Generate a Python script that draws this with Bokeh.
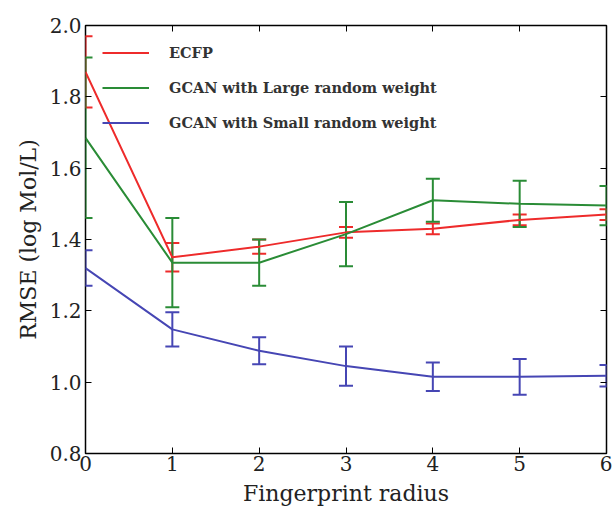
from bokeh.plotting import figure
from bokeh.models import (ColumnDataSource, Whisker, TeeHead, LinearAxis, Range1d, FixedTicker,
                          Legend, LegendItem, NumeralTickFormatter, CustomJSTickFormatter, Title)
from bokeh.embed import file_html
from bokeh.resources import INLINE

radius = [0, 1, 2, 3, 4, 5, 6]
ecfp = [1.87, 1.35, 1.38, 1.42, 1.43, 1.455, 1.47]
ecfp_err = [0.10, 0.04, 0.02, 0.015, 0.015, 0.015, 0.015]
large = [1.685, 1.335, 1.335, 1.415, 1.51, 1.50, 1.495]
large_err = [0.225, 0.125, 0.065, 0.09, 0.06, 0.065, 0.055]
small = [1.32, 1.148, 1.088, 1.045, 1.015, 1.015, 1.018]
small_err = [0.05, 0.048, 0.038, 0.055, 0.04, 0.05, 0.03]

labels = ["ECFP", "GCAN with Large random weight", "GCAN with Small random weight"]
x_title = "Fingerprint radius"
y_title = "RMSE (log Mol/L)"
colors = ["#ee2b2b", "#2a8c36", "#4646b4"]
FONT = "DejaVu Serif"
QFONT = "'DejaVu Serif', serif"

p = figure(width=612, height=512, output_backend="svg", toolbar_location=None,
           x_range=Range1d(0, 6), y_range=Range1d(0.8, 2.0),
           min_border_left=85, min_border_right=6, min_border_top=25, min_border_bottom=59)
p.xgrid.visible = False
p.ygrid.visible = False
p.outline_line_color = "black"
p.outline_line_width = 1.5

items = []
for ys, es, lab, col in [(ecfp, ecfp_err, labels[0], colors[0]),
                         (large, large_err, labels[1], colors[1]),
                         (small, small_err, labels[2], colors[2])]:
    src = ColumnDataSource(dict(x=radius, y=ys,
                                lo=[a - b for a, b in zip(ys, es)],
                                hi=[a + b for a, b in zip(ys, es)]))
    r = p.line("x", "y", source=src, line_color=col, line_width=2)
    w = Whisker(base="x", upper="hi", lower="lo", source=src, line_color=col, line_width=2,
                upper_head=TeeHead(size=14, line_color=col, line_width=2),
                lower_head=TeeHead(size=14, line_color=col, line_width=2))
    p.add_layout(w)
    items.append(LegendItem(label=lab, renderers=[r]))

leg = Legend(items=items, location="top_left", margin=17, padding=10,
             border_line_color=None, background_fill_alpha=0,
             label_text_font=FONT, label_text_font_size="14.5px", label_text_font_style="bold",
             label_text_color="#333333", glyph_width=47, glyph_height=21, label_height=21,
             spacing=14, label_standoff=20)
p.add_layout(leg, "center")

xt = FixedTicker(ticks=[0, 1, 2, 3, 4, 5, 6])
yt = FixedTicker(ticks=[0.8, 1.0, 1.2, 1.4, 1.6, 1.8, 2.0])
p.xaxis.ticker = xt
p.yaxis.ticker = yt
p.yaxis.formatter = NumeralTickFormatter(format="0.0")
for ax in [p.xaxis[0], p.yaxis[0]]:
    ax.major_tick_in = 6
    ax.major_tick_out = 0
    ax.minor_tick_in = 0
    ax.minor_tick_out = 0
    ax.axis_line_color = None
    ax.major_label_text_font = FONT
    ax.major_label_text_font_size = "20px"
    ax.major_label_text_color = "#222222"
p.xaxis.major_label_standoff = 2
p.yaxis.major_label_standoff = 4

p.add_layout(Title(text=x_title, align="center", text_font=QFONT, text_font_size="22px",
                   text_font_style="normal", text_color="#222222", standoff=10), "below")
p.add_layout(Title(text=y_title, align="center", text_font=QFONT, text_font_size="22px",
                   text_font_style="normal", text_color="#222222", standoff=12), "left")

blank = CustomJSTickFormatter(code="return '';")
top = LinearAxis(ticker=xt, formatter=blank, major_tick_in=6, major_tick_out=0,
                 minor_tick_in=0, minor_tick_out=0, axis_line_color=None, major_label_standoff=0)
right = LinearAxis(ticker=yt, formatter=blank, major_tick_in=6, major_tick_out=0,
                   minor_tick_in=0, minor_tick_out=0, axis_line_color=None, major_label_standoff=0)
p.add_layout(top, "above")
p.add_layout(right, "right")

open("out.html", "w").write(file_html(p, INLINE))
